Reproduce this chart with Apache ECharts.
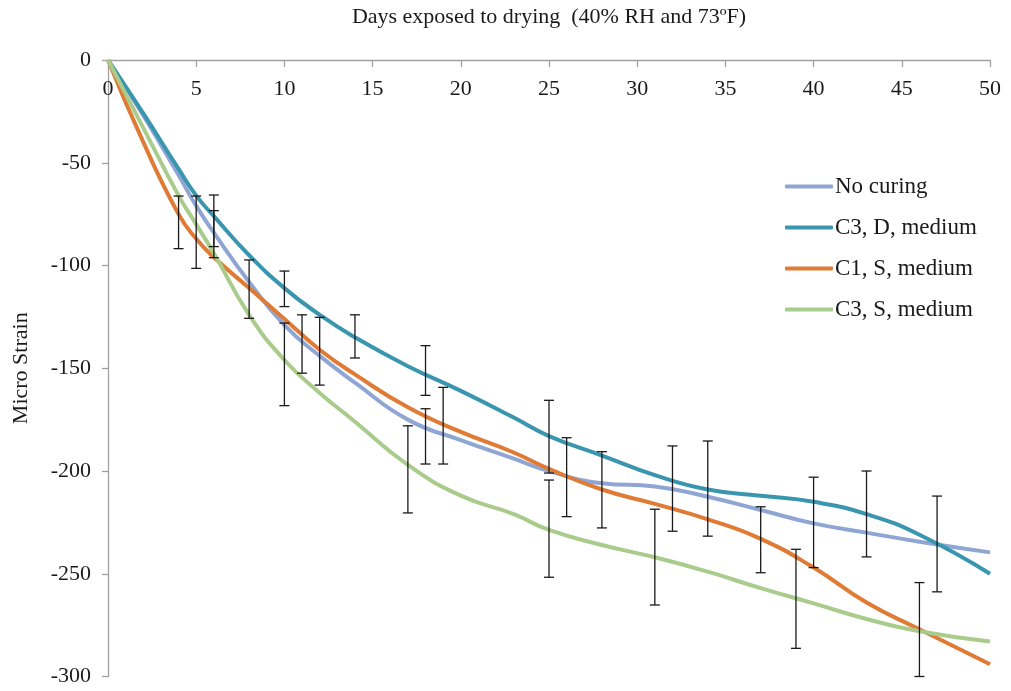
<!DOCTYPE html>
<html>
<head>
<meta charset="utf-8">
<script src="https://cdn.jsdelivr.net/npm/echarts@6/dist/echarts.min.js"></script>
<style>
html,body{margin:0;padding:0;background:#fff;}
#chart{width:1011px;height:691px;}
</style>
</head>
<body>
<div id="chart"></div>
<script>
// ---- data ----
const days = [0, 2, 4, 5, 6, 8, 10, 12, 14, 17, 20, 23, 25, 28, 31, 34, 37, 40, 43, 46, 50];
const noCuring = [0, -27, -56, -71, -84, -108, -129, -144, -157, -175, -185, -194, -200, -206, -207.5, -212.5, -219, -225.5, -230, -234.4, -239.6];
const c3D = [0, -26, -53, -66, -76, -95, -111, -124, -135, -149, -161, -174, -183, -192.5, -202, -209, -212, -215, -221, -231, -250];
const c1S = [0, -40, -75, -87, -96, -111, -126, -141, -153, -169, -181, -191, -199, -209, -216, -223.5, -233, -247, -264, -277, -294];
const c3S = [0, -33, -66, -80, -94, -124, -146, -162, -176, -197, -212, -221, -228.7, -236, -242, -249, -257, -264.4, -272, -278, -283];

const seriesNames = ['No curing', 'C3, D, medium', 'C1, S, medium', 'C3, S, medium'];
const seriesColors = ['#8fa6d4', '#3a96ae', '#e07b36', '#a9cb8b'];

// error bars: day, upper value, lower value
const errDays = [4, 5, 6, 6, 8, 10, 10, 11, 12, 14, 17, 18, 18, 19, 25, 25, 26, 28, 31, 32, 34, 37, 39, 40, 43, 46, 47];
const errHigh = [-66.2, -66.2, -65.7, -73.3, -97.3, -102.7, -128, -124, -125.2, -124, -178, -139, -169.7, -159.3, -165.6, -204.4, -183.8, -190.6, -218.6, -187.8, -185.4, -217.4, -238.1, -203, -200, -254.3, -212.2];
const errLow = [-91.8, -101.4, -90.8, -96.2, -125.7, -120, -168.2, -152.4, -158.2, -145, -220.4, -163.2, -196.6, -196.6, -201, -251.7, -222.2, -227.7, -265.2, -229.3, -231.7, -249.5, -286.3, -247, -241.8, -300, -258.8];

const xTicks = [0, 50, 5];      // min, max, interval
const yTicks = [-300, 0, 50];   // min, max, interval

// ---- chart ----
const FONT = 'Liberation Serif';
const chart = echarts.init(document.getElementById('chart'), null, {renderer: 'canvas'});

const pair = (vals) => days.map((d, i) => [d, vals[i]]);
const allVals = [noCuring, c3D, c1S, c3S];

const lineSeries = seriesNames.map((name, i) => ({
  name: name,
  type: 'line',
  data: pair(allVals[i]),
  smooth: 0.5,
  symbol: 'none',
  color: seriesColors[i],
  lineStyle: {width: 4, color: seriesColors[i]},
  z: 2
}));

const errData = errDays.map((d, i) => [d, errHigh[i], errLow[i]]);

const errSeries = {
  type: 'custom',
  name: 'err',
  data: errData,
  z: 5,
  silent: true,
  renderItem: function (params, api) {
    const x = api.value(0);
    const p1 = api.coord([x, api.value(1)]);
    const p2 = api.coord([x, api.value(2)]);
    const w = 5;
    const st = {stroke: '#1a1a1a', lineWidth: 1.3};
    return {
      type: 'group',
      children: [
        {type: 'line', shape: {x1: p1[0], y1: p1[1], x2: p2[0], y2: p2[1]}, style: st},
        {type: 'line', shape: {x1: p1[0] - w, y1: p1[1], x2: p1[0] + w, y2: p1[1]}, style: st},
        {type: 'line', shape: {x1: p2[0] - w, y1: p2[1], x2: p2[0] + w, y2: p2[1]}, style: st}
      ]
    };
  }
};

const option = {
  backgroundColor: '#ffffff',
  animation: false,
  textStyle: {fontFamily: FONT},
  grid: {left: 108, right: 21, top: 60, bottom: 14.5, outerBoundsMode: 'none', containLabel: false},
  legend: {
    data: seriesNames,
    orient: 'vertical',
    left: 780,
    top: 170,
    icon: 'roundRect',
    itemWidth: 48,
    itemHeight: 4,
    itemGap: 18,
    textStyle: {fontFamily: FONT, fontSize: 23, color: '#1a1a1a', padding: [0, 0, 0, -3]}
  },
  xAxis: {
    type: 'value',
    position: 'top',
    min: xTicks[0], max: xTicks[1], interval: xTicks[2],
    name: 'Days exposed to drying  (40% RH and 73ºF)',
    nameLocation: 'middle',
    nameGap: 32,
    nameTextStyle: {fontFamily: FONT, fontSize: 22, color: '#1a1a1a'},
    axisLine: {show: true, onZero: false, lineStyle: {color: '#a0a0a0', width: 1.3}},
    axisTick: {show: true, inside: true, length: 7, lineStyle: {color: '#a0a0a0', width: 1.3}},
    axisLabel: {inside: true, margin: 18, fontFamily: FONT, fontSize: 22, color: '#1a1a1a'},
    splitLine: {show: false}
  },
  yAxis: {
    type: 'value',
    min: yTicks[0], max: yTicks[1], interval: yTicks[2],
    name: 'Micro Strain',
    nameLocation: 'middle',
    nameGap: 76,
    nameRotate: 90,
    nameTextStyle: {fontFamily: FONT, fontSize: 22, color: '#1a1a1a'},
    axisLine: {show: true, onZero: false, lineStyle: {color: '#a0a0a0', width: 1.3}},
    axisTick: {show: true, inside: false, length: 6, lineStyle: {color: '#a0a0a0', width: 1.3}},
    axisLabel: {margin: 17, fontFamily: FONT, fontSize: 22, color: '#1a1a1a'},
    splitLine: {show: false}
  },
  series: lineSeries.concat([errSeries])
};

chart.setOption(option);
</script>
</body>
</html>
